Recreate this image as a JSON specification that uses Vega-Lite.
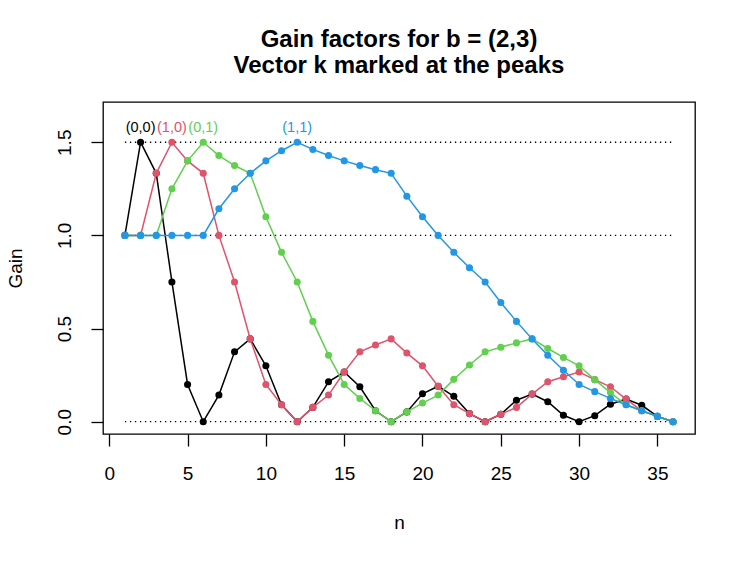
{
  "$schema": "https://vega.github.io/schema/vega-lite/v6.json",
  "width": 592,
  "height": 332,
  "autosize": {"type": "none"},
  "padding": {"left": 103, "top": 102, "right": 52, "bottom": 127},
  "background": "white",
  "title": {
    "text": ["Gain factors for b = (2,3)", "Vector k marked at the peaks"],
    "font": "Liberation Sans",
    "fontSize": 24,
    "fontWeight": "bold",
    "color": "black",
    "lineHeight": 26,
    "anchor": "middle",
    "offset": 24
  },
  "config": {
    "view": {"stroke": "black", "strokeWidth": 1.3},
    "axis": {
      "grid": false,
      "domain": false,
      "tickColor": "black",
      "tickWidth": 1.3,
      "tickSize": 12,
      "labelColor": "black",
      "labelFont": "Liberation Sans",
      "labelFontSize": 19,
      "titleFont": "Liberation Sans",
      "titleFontSize": 19,
      "titleFontWeight": "normal",
      "titleColor": "black",
      "labelFlush": false,
      "labelOverlap": false
    }
  },
  "datasets": {
    "curves": [
      {"n": 1, "k": "(0,0)", "gain": 1},
      {"n": 2, "k": "(0,0)", "gain": 1.5},
      {"n": 3, "k": "(0,0)", "gain": 1.3333},
      {"n": 4, "k": "(0,0)", "gain": 0.75},
      {"n": 5, "k": "(0,0)", "gain": 0.2},
      {"n": 6, "k": "(0,0)", "gain": 0},
      {"n": 7, "k": "(0,0)", "gain": 0.1429},
      {"n": 8, "k": "(0,0)", "gain": 0.375},
      {"n": 9, "k": "(0,0)", "gain": 0.4444},
      {"n": 10, "k": "(0,0)", "gain": 0.3},
      {"n": 11, "k": "(0,0)", "gain": 0.0909},
      {"n": 12, "k": "(0,0)", "gain": 0},
      {"n": 13, "k": "(0,0)", "gain": 0.0769},
      {"n": 14, "k": "(0,0)", "gain": 0.2143},
      {"n": 15, "k": "(0,0)", "gain": 0.2667},
      {"n": 16, "k": "(0,0)", "gain": 0.1875},
      {"n": 17, "k": "(0,0)", "gain": 0.0588},
      {"n": 18, "k": "(0,0)", "gain": 0},
      {"n": 19, "k": "(0,0)", "gain": 0.0526},
      {"n": 20, "k": "(0,0)", "gain": 0.15},
      {"n": 21, "k": "(0,0)", "gain": 0.1905},
      {"n": 22, "k": "(0,0)", "gain": 0.1364},
      {"n": 23, "k": "(0,0)", "gain": 0.0435},
      {"n": 24, "k": "(0,0)", "gain": 0},
      {"n": 25, "k": "(0,0)", "gain": 0.04},
      {"n": 26, "k": "(0,0)", "gain": 0.1154},
      {"n": 27, "k": "(0,0)", "gain": 0.1481},
      {"n": 28, "k": "(0,0)", "gain": 0.1071},
      {"n": 29, "k": "(0,0)", "gain": 0.0345},
      {"n": 30, "k": "(0,0)", "gain": 0},
      {"n": 31, "k": "(0,0)", "gain": 0.0323},
      {"n": 32, "k": "(0,0)", "gain": 0.0938},
      {"n": 33, "k": "(0,0)", "gain": 0.1212},
      {"n": 34, "k": "(0,0)", "gain": 0.0882},
      {"n": 35, "k": "(0,0)", "gain": 0.0286},
      {"n": 36, "k": "(0,0)", "gain": 0},
      {"n": 1, "k": "(1,0)", "gain": 1},
      {"n": 2, "k": "(1,0)", "gain": 1},
      {"n": 3, "k": "(1,0)", "gain": 1.3333},
      {"n": 4, "k": "(1,0)", "gain": 1.5},
      {"n": 5, "k": "(1,0)", "gain": 1.4},
      {"n": 6, "k": "(1,0)", "gain": 1.3333},
      {"n": 7, "k": "(1,0)", "gain": 1},
      {"n": 8, "k": "(1,0)", "gain": 0.75},
      {"n": 9, "k": "(1,0)", "gain": 0.4444},
      {"n": 10, "k": "(1,0)", "gain": 0.2},
      {"n": 11, "k": "(1,0)", "gain": 0.0909},
      {"n": 12, "k": "(1,0)", "gain": 0},
      {"n": 13, "k": "(1,0)", "gain": 0.0769},
      {"n": 14, "k": "(1,0)", "gain": 0.1429},
      {"n": 15, "k": "(1,0)", "gain": 0.2667},
      {"n": 16, "k": "(1,0)", "gain": 0.375},
      {"n": 17, "k": "(1,0)", "gain": 0.4118},
      {"n": 18, "k": "(1,0)", "gain": 0.4444},
      {"n": 19, "k": "(1,0)", "gain": 0.3684},
      {"n": 20, "k": "(1,0)", "gain": 0.3},
      {"n": 21, "k": "(1,0)", "gain": 0.1905},
      {"n": 22, "k": "(1,0)", "gain": 0.0909},
      {"n": 23, "k": "(1,0)", "gain": 0.0435},
      {"n": 24, "k": "(1,0)", "gain": 0},
      {"n": 25, "k": "(1,0)", "gain": 0.04},
      {"n": 26, "k": "(1,0)", "gain": 0.0769},
      {"n": 27, "k": "(1,0)", "gain": 0.1481},
      {"n": 28, "k": "(1,0)", "gain": 0.2143},
      {"n": 29, "k": "(1,0)", "gain": 0.2414},
      {"n": 30, "k": "(1,0)", "gain": 0.2667},
      {"n": 31, "k": "(1,0)", "gain": 0.2258},
      {"n": 32, "k": "(1,0)", "gain": 0.1875},
      {"n": 33, "k": "(1,0)", "gain": 0.1212},
      {"n": 34, "k": "(1,0)", "gain": 0.0588},
      {"n": 35, "k": "(1,0)", "gain": 0.0286},
      {"n": 36, "k": "(1,0)", "gain": 0},
      {"n": 1, "k": "(0,1)", "gain": 1},
      {"n": 2, "k": "(0,1)", "gain": 1},
      {"n": 3, "k": "(0,1)", "gain": 1},
      {"n": 4, "k": "(0,1)", "gain": 1.25},
      {"n": 5, "k": "(0,1)", "gain": 1.4},
      {"n": 6, "k": "(0,1)", "gain": 1.5},
      {"n": 7, "k": "(0,1)", "gain": 1.4286},
      {"n": 8, "k": "(0,1)", "gain": 1.375},
      {"n": 9, "k": "(0,1)", "gain": 1.3333},
      {"n": 10, "k": "(0,1)", "gain": 1.1},
      {"n": 11, "k": "(0,1)", "gain": 0.9091},
      {"n": 12, "k": "(0,1)", "gain": 0.75},
      {"n": 13, "k": "(0,1)", "gain": 0.5385},
      {"n": 14, "k": "(0,1)", "gain": 0.3571},
      {"n": 15, "k": "(0,1)", "gain": 0.2},
      {"n": 16, "k": "(0,1)", "gain": 0.125},
      {"n": 17, "k": "(0,1)", "gain": 0.0588},
      {"n": 18, "k": "(0,1)", "gain": 0},
      {"n": 19, "k": "(0,1)", "gain": 0.0526},
      {"n": 20, "k": "(0,1)", "gain": 0.1},
      {"n": 21, "k": "(0,1)", "gain": 0.1429},
      {"n": 22, "k": "(0,1)", "gain": 0.2273},
      {"n": 23, "k": "(0,1)", "gain": 0.3043},
      {"n": 24, "k": "(0,1)", "gain": 0.375},
      {"n": 25, "k": "(0,1)", "gain": 0.4},
      {"n": 26, "k": "(0,1)", "gain": 0.4231},
      {"n": 27, "k": "(0,1)", "gain": 0.4444},
      {"n": 28, "k": "(0,1)", "gain": 0.3929},
      {"n": 29, "k": "(0,1)", "gain": 0.3448},
      {"n": 30, "k": "(0,1)", "gain": 0.3},
      {"n": 31, "k": "(0,1)", "gain": 0.2258},
      {"n": 32, "k": "(0,1)", "gain": 0.1563},
      {"n": 33, "k": "(0,1)", "gain": 0.0909},
      {"n": 34, "k": "(0,1)", "gain": 0.0588},
      {"n": 35, "k": "(0,1)", "gain": 0.0286},
      {"n": 36, "k": "(0,1)", "gain": 0},
      {"n": 1, "k": "(1,1)", "gain": 1},
      {"n": 2, "k": "(1,1)", "gain": 1},
      {"n": 3, "k": "(1,1)", "gain": 1},
      {"n": 4, "k": "(1,1)", "gain": 1},
      {"n": 5, "k": "(1,1)", "gain": 1},
      {"n": 6, "k": "(1,1)", "gain": 1},
      {"n": 7, "k": "(1,1)", "gain": 1.1429},
      {"n": 8, "k": "(1,1)", "gain": 1.25},
      {"n": 9, "k": "(1,1)", "gain": 1.3333},
      {"n": 10, "k": "(1,1)", "gain": 1.4},
      {"n": 11, "k": "(1,1)", "gain": 1.4545},
      {"n": 12, "k": "(1,1)", "gain": 1.5},
      {"n": 13, "k": "(1,1)", "gain": 1.4615},
      {"n": 14, "k": "(1,1)", "gain": 1.4286},
      {"n": 15, "k": "(1,1)", "gain": 1.4},
      {"n": 16, "k": "(1,1)", "gain": 1.375},
      {"n": 17, "k": "(1,1)", "gain": 1.3529},
      {"n": 18, "k": "(1,1)", "gain": 1.3333},
      {"n": 19, "k": "(1,1)", "gain": 1.2105},
      {"n": 20, "k": "(1,1)", "gain": 1.1},
      {"n": 21, "k": "(1,1)", "gain": 1},
      {"n": 22, "k": "(1,1)", "gain": 0.9091},
      {"n": 23, "k": "(1,1)", "gain": 0.8261},
      {"n": 24, "k": "(1,1)", "gain": 0.75},
      {"n": 25, "k": "(1,1)", "gain": 0.64},
      {"n": 26, "k": "(1,1)", "gain": 0.5385},
      {"n": 27, "k": "(1,1)", "gain": 0.4444},
      {"n": 28, "k": "(1,1)", "gain": 0.3571},
      {"n": 29, "k": "(1,1)", "gain": 0.2759},
      {"n": 30, "k": "(1,1)", "gain": 0.2},
      {"n": 31, "k": "(1,1)", "gain": 0.1613},
      {"n": 32, "k": "(1,1)", "gain": 0.125},
      {"n": 33, "k": "(1,1)", "gain": 0.0909},
      {"n": 34, "k": "(1,1)", "gain": 0.0588},
      {"n": 35, "k": "(1,1)", "gain": 0.0286},
      {"n": 36, "k": "(1,1)", "gain": 0}
    ],
    "peaks": [
      {"n": 2, "gain": 1.5, "k": "(0,0)"},
      {"n": 4, "gain": 1.5, "k": "(1,0)"},
      {"n": 6, "gain": 1.5, "k": "(0,1)"},
      {"n": 12, "gain": 1.5, "k": "(1,1)"}
    ],
    "refs": [
      {"gain": 0, "n": 1, "n_end": 36},
      {"gain": 1, "n": 1, "n_end": 36},
      {"gain": 1.5, "n": 1, "n_end": 36}
    ]
  },
  "encoding": {
    "x": {
      "field": "n",
      "type": "quantitative",
      "scale": {"domain": [-0.4, 37.4], "nice": false, "zero": false},
      "axis": {"values": [0, 5, 10, 15, 20, 25, 30, 35], "title": "n", "labelPadding": 18, "titlePadding": 30}
    },
    "y": {
      "field": "gain",
      "type": "quantitative",
      "scale": {"domain": [-0.066, 1.716], "nice": false, "zero": false},
      "axis": {"values": [0, 0.5, 1, 1.5], "format": ".1f", "title": "Gain", "labelAngle": -90, "labelAlign": "center", "labelBaseline": "alphabetic", "labelPadding": 21, "titlePadding": 30}
    }
  },
  "layer": [
    {
      "data": {"name": "refs"},
      "mark": {"type": "rule", "color": "black", "strokeWidth": 1.3, "strokeDash": [1.3, 3.7]},
      "encoding": {
        "x2": {"field": "n_end"}
      }
    },
    {
      "data": {"name": "curves"},
      "transform": [{"filter": "datum.k === '(0,0)'"}],
      "mark": {"type": "line", "strokeWidth": 1.5, "color": "#000000", "point": {"filled": true, "size": 50, "opacity": 1, "color": "#000000"}}
    },
    {
      "data": {"name": "curves"},
      "transform": [{"filter": "datum.k === '(1,0)'"}],
      "mark": {"type": "line", "strokeWidth": 1.5, "color": "#DF536B", "point": {"filled": true, "size": 50, "opacity": 1, "color": "#DF536B"}}
    },
    {
      "data": {"name": "curves"},
      "transform": [{"filter": "datum.k === '(0,1)'"}],
      "mark": {"type": "line", "strokeWidth": 1.5, "color": "#61D04F", "point": {"filled": true, "size": 50, "opacity": 1, "color": "#61D04F"}}
    },
    {
      "data": {"name": "curves"},
      "transform": [{"filter": "datum.k === '(1,1)'"}],
      "mark": {"type": "line", "strokeWidth": 1.5, "color": "#2297E6", "point": {"filled": true, "size": 50, "opacity": 1, "color": "#2297E6"}}
    },
    {
      "data": {"name": "peaks"},
      "mark": {"type": "text", "font": "Liberation Sans", "fontSize": 14.5, "baseline": "middle", "align": "center", "dy": -14},
      "encoding": {
        "text": {"field": "k"},
        "color": {
          "field": "k",
          "type": "nominal",
          "scale": {"domain": ["(0,0)", "(1,0)", "(0,1)", "(1,1)"], "range": ["#000000", "#DF536B", "#61D04F", "#2297E6"]},
          "legend": null
        }
      }
    }
  ]
}
